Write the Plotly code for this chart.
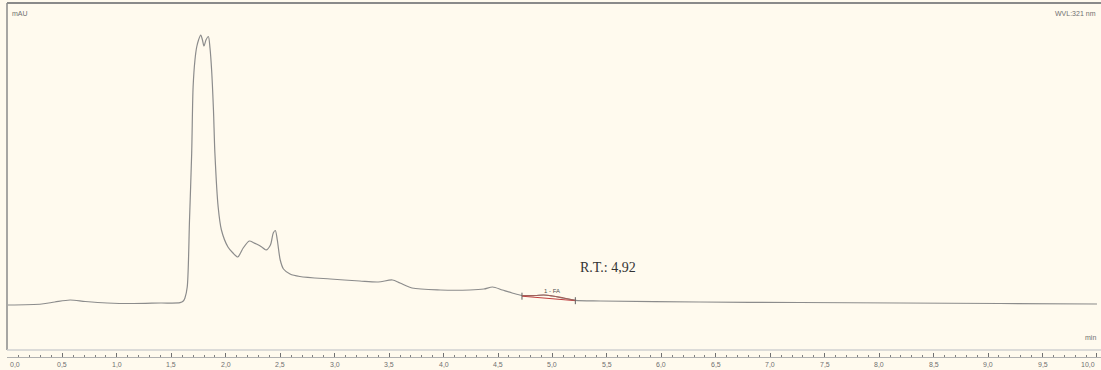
import plotly.graph_objects as go

# Chromatogram at 321 nm: retention time (min) and absorbance (mAU)
time_min = [0.00, 0.31, 0.43, 0.57, 0.71, 0.91, 1.15, 1.40, 1.58, 1.61, 1.625, 1.646,
            1.667, 1.687, 1.70, 1.717, 1.733, 1.75, 1.77, 1.786, 1.80, 1.818, 1.84,
            1.855, 1.87, 1.887, 1.90, 1.93, 1.96, 2.02, 2.066, 2.11, 2.135, 2.16,
            2.216, 2.26, 2.30, 2.33, 2.37, 2.41, 2.436, 2.455, 2.473, 2.50, 2.53,
            2.59, 2.68, 2.96, 3.23, 3.40, 3.53, 3.60, 3.71, 3.97, 4.24, 4.37, 4.45,
            4.54, 4.63, 4.72, 4.84, 4.92, 5.00, 5.10, 5.21, 5.44, 6.35, 7.27, 8.19,
            9.11, 10.0]
signal_mau = [0.0, 1.0, 3.0, 5.0, 3.5, 2.0, 1.5, 2.0, 2.3, 4.0, 7.0, 18.0,
              85.0, 152.0, 218.0, 245.0, 258.0, 265.0, 270.0, 265.0, 259.0, 265.0, 268.5,
              257.0, 235.0, 195.0, 152.0, 98.0, 75.0, 58.0, 52.0, 48.0, 52.0, 57.0,
              64.0, 62.0, 60.0, 58.0, 55.0, 60.0, 72.0, 74.5, 65.0, 45.0, 36.0,
              31.0, 28.5, 26.0, 24.0, 23.0, 25.0, 22.0, 17.0, 15.0, 15.0, 16.0, 18.0,
              15.0, 12.0, 9.5, 9.5, 10.0, 9.0, 7.0, 4.7, 4.0, 3.0, 2.5, 2.0,
              1.5, 1.0]

# Integrated peak "1 - FA"
peak_name = "1 - FA"
peak_rt = 4.92
peak_time = [4.72, 4.84, 4.92, 5.00, 5.10, 5.21]
peak_signal = [9.5, 9.5, 10.0, 9.0, 7.0, 4.7]
baseline_time = [4.72, 5.21]
baseline_signal = [8.8, 4.3]

# Time axis labels (min)
x_tick_vals = [0.0, 0.5, 1.0, 1.5, 2.0, 2.5, 3.0, 3.5, 4.0, 4.5, 5.0,
               5.5, 6.0, 6.5, 7.0, 7.5, 8.0, 8.5, 9.0, 9.5, 10.0]
x_tick_text = [f"{v:.1f}".replace(".", ",") for v in x_tick_vals]

cream = "#fffaee"
grey_line = "#8c8c8c"
label_grey = "#707070"
small = dict(family="Arial, Liberation Sans", size=7, color=label_grey)

fig = go.Figure()

fig.add_trace(go.Scatter(
    x=time_min, y=signal_mau, mode="lines",
    line=dict(color=grey_line, width=1.2, shape="spline", smoothing=0.8),
    hoverinfo="skip", showlegend=False))

fig.add_trace(go.Scatter(
    x=baseline_time, y=baseline_signal, mode="lines+markers",
    line=dict(color="#c04040", width=1),
    marker=dict(symbol="line-ns-open", size=5, color="#606060", line=dict(width=1, color="#606060")),
    hoverinfo="skip", showlegend=False))

fig.add_trace(go.Scatter(
    x=peak_time, y=peak_signal, mode="lines",
    line=dict(color="#a0605a", width=1.2, shape="spline"),
    hoverinfo="skip", showlegend=False))

fig.add_annotation(x=5.0, y=14, xref="x", yref="y", text=peak_name, showarrow=False,
                   font=dict(family="Arial, Liberation Sans", size=6, color="#505050"))

fig.add_annotation(x=5.51, y=38, xref="x", yref="y",
                   text="R.T.: " + f"{peak_rt:.2f}".replace(".", ","), showarrow=False,
                   font=dict(family="Liberation Serif, Times New Roman, serif", size=14, color="#333333"))

fig.add_annotation(x=0.003, y=0.985, xref="paper", yref="paper", text="mAU", showarrow=False,
                   xanchor="left", yanchor="top", font=small)
fig.add_annotation(x=0.997, y=0.985, xref="paper", yref="paper", text="WVL:321 nm", showarrow=False,
                   xanchor="right", yanchor="top", font=small)
fig.add_annotation(x=0.997, y=0.04, xref="paper", yref="paper", text="min", showarrow=False,
                   xanchor="right", yanchor="bottom", font=small)

# tick labels; the edge labels are anchored inward so they stay on the page
last = len(x_tick_vals) - 1
for i, (v, t) in enumerate(zip(x_tick_vals, x_tick_text)):
    anchor = "left" if i == 0 else ("right" if i == last else "center")
    fig.add_annotation(x=v, y=0, xref="x", yref="paper", text=t, showarrow=False,
                       xanchor=anchor, yanchor="top", yshift=-2, font=small)

# frame of the plot window
fig.add_shape(type="line", xref="paper", yref="paper", x0=0, x1=1, y0=1, y1=1,
              line=dict(color="#8a8a8a", width=2))
fig.add_shape(type="line", xref="paper", yref="paper", x0=0, x1=0, y0=0.02, y1=1,
              line=dict(color="#8a8a8a", width=1.5))
fig.add_shape(type="line", xref="paper", yref="paper", x0=0, x1=1, y0=0.02, y1=0.02,
              line=dict(color="#d0d0d0", width=1.5))

fig.update_layout(
    width=1101, height=370,
    margin=dict(l=7, r=0, t=3, b=13),
    paper_bgcolor=cream, plot_bgcolor=cream,
    xaxis=dict(range=[-0.009, 10.037], tickvals=x_tick_vals, showticklabels=False,
               ticks="inside", ticklen=4, tickcolor="#707070",
               tickwidth=1, showgrid=False, zeroline=False, showline=True,
               linecolor="#b0b0b0", linewidth=1,
               minor=dict(dtick=0.1, tick0=0, ticks="inside", ticklen=2, tickcolor="#808080", showgrid=False)),
    yaxis=dict(range=[-52, 302], showticklabels=False, showgrid=False,
               zeroline=False, showline=False, ticks=""),
)

fig.write_html("out.html")
